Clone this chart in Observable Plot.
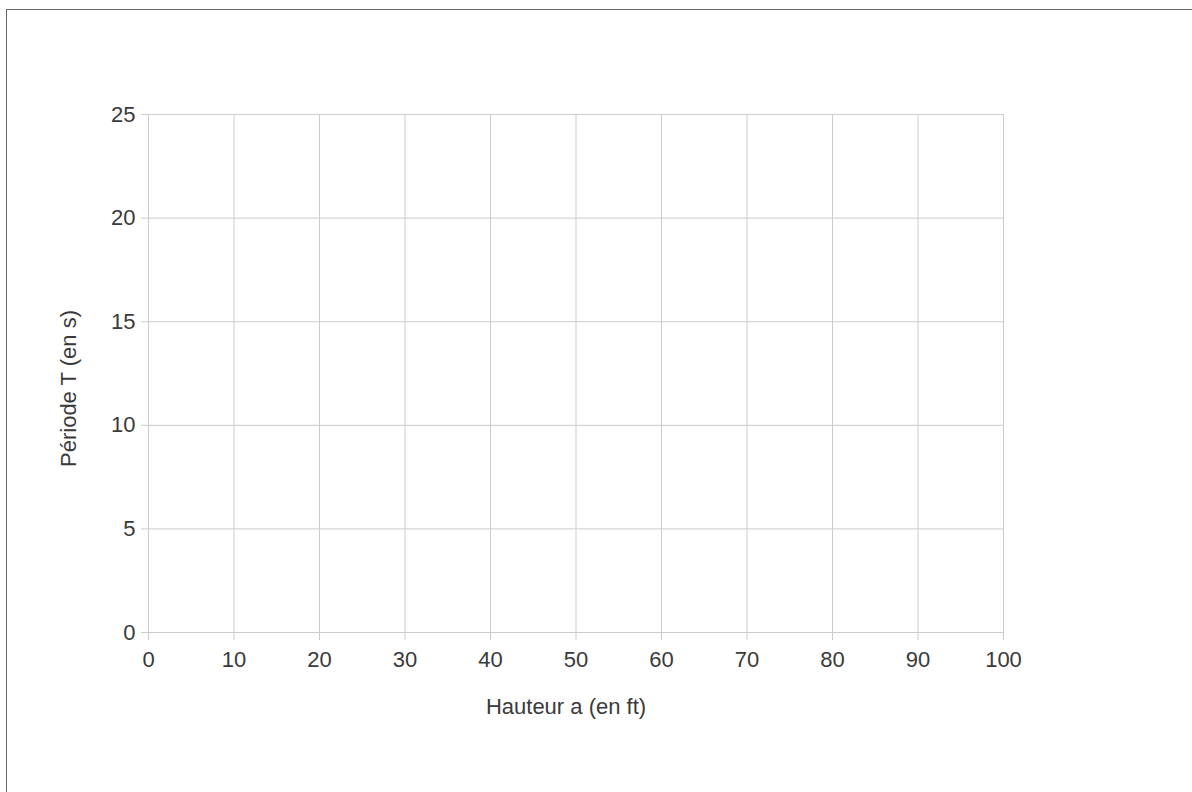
<!DOCTYPE html>
<html>
<head>
<meta charset="utf-8">
<script src="https://cdn.jsdelivr.net/npm/d3@7"></script>
<script src="https://cdn.jsdelivr.net/npm/@observablehq/plot@0.6"></script>
<style>
  html, body { margin: 0; padding: 0; background: #fff; }
  #wrap { position: relative; width: 1192px; height: 792px; overflow: hidden; }
  #frame { position: absolute; left: 6px; top: 9px; width: 1300px; height: 900px;
           border-top: 1px solid #666; border-left: 1px solid #666; }
  #chart { position: absolute; left: 0; top: 0; }
</style>
</head>
<body>
<div id="wrap"><div id="frame"></div><div id="chart"></div></div>
<script>
const xDomain = [0, 100];
const yDomain = [0, 25];
const xTicks = [0, 10, 20, 30, 40, 50, 60, 70, 80, 90, 100];
const yTicks = [0, 5, 10, 15, 20, 25];
const xLabel = "Hauteur a (en ft)";
const yLabel = "Période T (en s)";

const font = "'Liberation Sans', Arial, sans-serif";
const grid = "#cccccc";
const ink = "#3a3a3a";

const chart = Plot.plot({
  width: 1192,
  height: 792,
  marginLeft: 148,
  marginRight: 189,
  marginTop: 114,
  marginBottom: 160,
  style: { fontFamily: font, fontSize: "22px", color: ink, background: "transparent" },
  x: { domain: xDomain },
  y: { domain: yDomain },
  marks: [
    Plot.gridX(xTicks, { stroke: grid, strokeOpacity: 1 }),
    Plot.gridY(yTicks, { stroke: grid, strokeOpacity: 1 }),
    Plot.axisX(xTicks, { tickSize: 8, tickPadding: 11, stroke: grid, strokeOpacity: 1, fill: ink, fontSize: 22, label: null }),
    Plot.axisY(yTicks, { tickSize: 7, tickPadding: 6, stroke: grid, strokeOpacity: 1, fill: ink, fontSize: 22, label: null }),
    Plot.text([xLabel], { text: d => d, frameAnchor: "bottom", lineAnchor: "bottom", textAnchor: "middle", dy: 81, dx: -10, fill: ink, fontSize: 22 }),
    Plot.text([yLabel], { text: d => d, frameAnchor: "left", lineAnchor: "bottom", textAnchor: "middle", rotate: -90, dx: -73, dy: 15, fill: ink, fontSize: 22 })
  ]
});
document.getElementById("chart").appendChild(chart);
</script>
</body>
</html>
